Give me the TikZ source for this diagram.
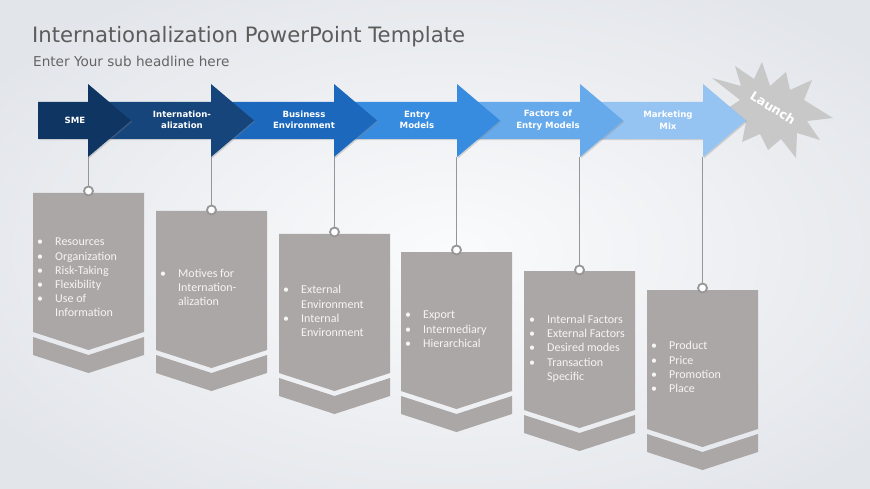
\documentclass[tikz,border=0pt]{standalone}
\usepackage{fontspec}
\setmainfont{Carlito}
\newfontfamily\vfont{DejaVu Sans}
\usetikzlibrary{shadows}
\definecolor{bgIn}{RGB}{250,251,252}
\definecolor{bgOut}{RGB}{226,229,234}
\definecolor{titlegray}{RGB}{92,92,92}
\definecolor{subgray}{RGB}{100,100,100}
\definecolor{aA}{RGB}{15,54,98}
\definecolor{aB}{RGB}{22,69,124}
\definecolor{aC}{RGB}{27,104,188}
\definecolor{aD}{RGB}{55,140,224}
\definecolor{aE}{RGB}{102,170,236}
\definecolor{aF}{RGB}{150,196,242}
\definecolor{cardgray}{RGB}{171,167,166}
\definecolor{linegray}{RGB}{150,150,150}
\definecolor{burstgray}{RGB}{200,200,200}
\definecolor{cardtxt}{RGB}{245,245,245}
\tikzset{
  arrowlbl/.style={text=white, font=\vfont\bfseries\fontsize{8.6}{11.5}\selectfont, align=center, inner sep=0},
  cardtext/.style={text=cardtxt, font=\fontsize{12}{14.2}\selectfont, align=left, inner sep=0, anchor=north west},
  ring/.style={circle, draw=linegray, line width=1.8pt, fill=white, minimum size=9pt, inner sep=0},
  hang/.style={draw=linegray, line width=1pt},
  arrowshape/.style={drop shadow={opacity=0.3, shadow xshift=1.2pt, shadow yshift=-1.2pt}}
}
\newcommand{\bul}{\makebox[18pt][l]{•}}
\newcommand{\cont}{\hspace*{18pt}}
\begin{document}
\begin{tikzpicture}[x=1pt,y=-1pt]
\useasboundingbox (0,0) rectangle (870,489);
\shade[inner color=bgIn, outer color=bgOut] (-100,-60) rectangle (1000,560);

% title
\node[anchor=base west, inner sep=0, text=titlegray, font=\vfont\fontsize{21.2}{24}\selectfont] (title) at (32,43) {Internationalization PowerPoint Template};
\node[anchor=base west, inner sep=0, text=subgray, font=\vfont\fontsize{13.6}{16}\selectfont] (sub) at (33,67) {Enter Your sub headline here};

% launch burst
\fill[burstgray] (762,62) -- (770,86) -- (786,72) -- (790,90) -- (812,80) -- (804,100) -- (833,118) -- (807,121) -- (820,140) -- (797,133) -- (796,158) -- (781,139) -- (768,150) -- (760,134) -- (742,142) -- (746,122) -- (722,112) -- (740,100) -- (712,78) -- (741,86) -- (735,66) -- (754,79) -- cycle;
\node[text=white, font=\vfont\bfseries\fontsize{12.5}{14}\selectfont, rotate=-32, inner sep=0] (launch) at (773,108) {Launch};

% arrows (last first)
\fill[aF, arrowshape] (580,102) -- (703,102) -- (703,84) -- (746,120.5) -- (703,157) -- (703,139) -- (580,139) -- cycle;
\fill[aE, arrowshape] (457,102) -- (580,102) -- (580,84) -- (623,120.5) -- (580,157) -- (580,139) -- (457,139) -- cycle;
\fill[aD, arrowshape] (334,102) -- (457,102) -- (457,84) -- (500,120.5) -- (457,157) -- (457,139) -- (334,139) -- cycle;
\fill[aC, arrowshape] (211,102) -- (334,102) -- (334,84) -- (377,120.5) -- (334,157) -- (334,139) -- (211,139) -- cycle;
\fill[aB, arrowshape] (88,102) -- (211,102) -- (211,84) -- (254,120.5) -- (211,157) -- (211,139) -- (88,139) -- cycle;
\fill[aA, arrowshape] (38,102) -- (88,102) -- (88,84) -- (131,120.5) -- (88,157) -- (88,139) -- (38,139) -- cycle;

\node[arrowlbl] (l1) at (75,120) {SME};
\node[arrowlbl] (l2) at (182,120) {Internation-\\alization};
\node[arrowlbl] (l3) at (304,120) {Business\\Environment};
\node[arrowlbl] (l4) at (417,120) {Entry\\Models};
\node[arrowlbl] (l5) at (548,120) {Factors of\\Entry Models};
\node[arrowlbl] (l6) at (668,120) {Marketing\\Mix};

% cards
\foreach \L/\T in {33/193, 156/211, 279/234, 401/252, 524/271, 647/290}{
  \fill[cardgray] (\L,\T) -- (\L+111,\T) -- (\L+111,\T+139) -- (\L+55.5,\T+157) -- (\L,\T+139) -- cycle;
  \fill[cardgray] (\L,\T+144) -- (\L+55.5,\T+162) -- (\L+111,\T+144) -- (\L+111,\T+162) -- (\L+55.5,\T+180) -- (\L,\T+162) -- cycle;
}

% hanging rings
\node[ring] (r1) at (88.5,191) {};
\node[ring] (r2) at (211.5,210) {};
\node[ring] (r3) at (334.5,232) {};
\node[ring] (r4) at (456.5,250) {};
\node[ring] (r5) at (579.5,270) {};
\node[ring] (r6) at (702.5,288) {};
\coordinate (h1) at (88.5,157);
\coordinate (h2) at (211.5,157);
\coordinate (h3) at (334.5,157);
\coordinate (h4) at (456.5,157);
\coordinate (h5) at (579.5,157);
\coordinate (h6) at (702.5,157);
\foreach \i in {1,...,6}{ \draw[hang] (h\i) -- (r\i.north); }

% card texts
\node[cardtext] (t1) at (37,246-10.2) {\strut\bul Resources\\\bul Organization\\\bul Risk-Taking\\\bul Flexibility\\\bul Use of\\\cont Information};
\node[cardtext] (t2) at (160,277.5-10.2) {\strut\bul Motives for\\\cont Internation-\\\cont alization};
\node[cardtext] (t3) at (283,294-10.2) {\strut\bul External\\\cont Environment\\\bul Internal\\\cont Environment};
\node[cardtext] (t4) at (405,319-10.2) {\strut\bul Export\\\bul Intermediary\\\bul Hierarchical};
\node[cardtext] (t5) at (529,323.5-10.2) {\strut\bul Internal Factors\\\bul External Factors\\\bul Desired modes\\\bul Transaction\\\cont Specific};
\node[cardtext] (t6) at (651,350-10.2) {\strut\bul Product\\\bul Price\\\bul Promotion\\\bul Place};
\end{tikzpicture}
\end{document}
